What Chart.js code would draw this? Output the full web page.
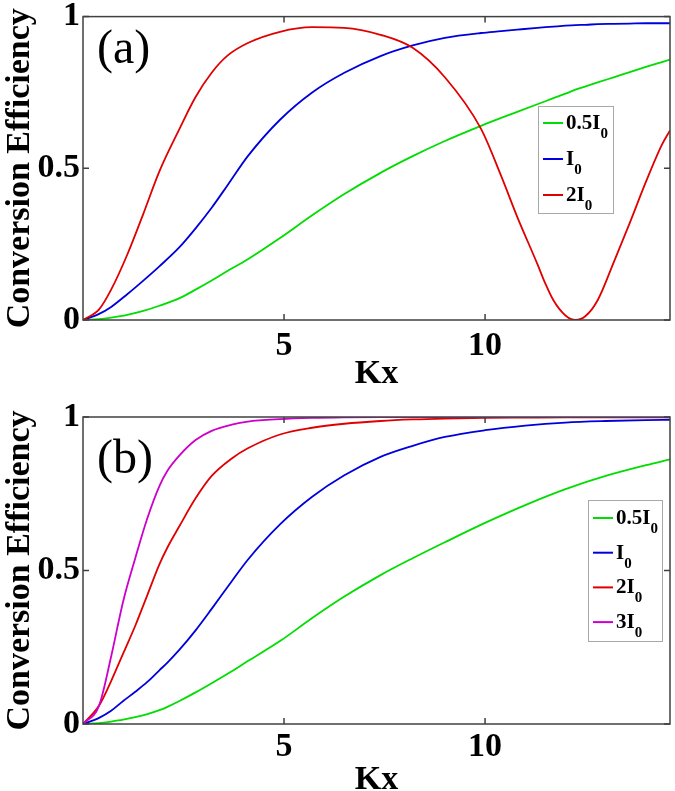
<!DOCTYPE html>
<html>
<head>
<meta charset="utf-8">
<script src="https://cdn.jsdelivr.net/npm/chart.js@4.4.0/dist/chart.umd.min.js"></script>
<style>
html, body { margin: 0; padding: 0; background: #fff; overflow: hidden; }
.panel { position: absolute; left: 0; width: 675px; }
</style>
</head>
<body>
<div class="panel" style="top:0;height:395px"><canvas id="chart-a" width="675" height="395"></canvas></div>
<div class="panel" style="top:395px;height:410px"><canvas id="chart-b" width="675" height="410"></canvas></div>
<script>
// panel (a)
const kxA = [0, 0.4, 0.7, 1.1, 1.5, 1.9, 2.4, 2.8, 3.2, 3.6, 4.1, 4.9, 5.7, 6.5, 7.4, 8.2, 9.0, 9.9, 10.4, 10.8, 11.3, 11.5, 11.7, 12.0, 12.25, 12.5, 12.8, 13.2, 13.6, 14.0, 14.4, 14.6];
const greenA = [0, 0.003, 0.008, 0.017, 0.03, 0.047, 0.072, 0.1, 0.13, 0.162, 0.2, 0.27, 0.345, 0.415, 0.485, 0.54, 0.59, 0.64, 0.666, 0.686, 0.711, 0.721, 0.731, 0.746, 0.759, 0.77, 0.783, 0.8, 0.817, 0.834, 0.85, 0.858];
const blueA = [0, 0.02, 0.043, 0.085, 0.13, 0.177, 0.24, 0.302, 0.37, 0.445, 0.54, 0.66, 0.75, 0.815, 0.87, 0.905, 0.93, 0.946, 0.952, 0.957, 0.963, 0.965, 0.967, 0.97, 0.972, 0.973, 0.975, 0.976, 0.977, 0.978, 0.978, 0.978];
const redA = [0, 0.035, 0.10, 0.215, 0.35, 0.49, 0.63, 0.735, 0.815, 0.872, 0.913, 0.95, 0.965, 0.963, 0.94, 0.897, 0.8, 0.63, 0.475, 0.34, 0.185, 0.12, 0.065, 0.015, 0, 0.013, 0.065, 0.19, 0.32, 0.455, 0.578, 0.625];

// panel (b)
const kxB = [0, 0.4, 0.7, 1.0, 1.3, 1.6, 1.9, 2.1, 2.4, 2.8, 3.2, 3.7, 4.1, 4.9, 5.7, 6.5, 7.4, 8.2, 9.0, 10.0, 11.0, 12.0, 13.0, 14.0, 14.6];
const greenB = [0, 0.003, 0.008, 0.014, 0.022, 0.032, 0.045, 0.056, 0.075, 0.103, 0.133, 0.172, 0.205, 0.27, 0.345, 0.415, 0.485, 0.54, 0.592, 0.655, 0.713, 0.765, 0.808, 0.843, 0.862];
const blueB = [0, 0.02, 0.043, 0.075, 0.105, 0.137, 0.175, 0.2, 0.242, 0.305, 0.375, 0.465, 0.535, 0.65, 0.74, 0.81, 0.87, 0.906, 0.935, 0.957, 0.972, 0.982, 0.987, 0.99, 0.991];
const redB = [0, 0.06, 0.14, 0.23, 0.32, 0.42, 0.52, 0.575, 0.645, 0.735, 0.808, 0.865, 0.898, 0.943, 0.965, 0.978, 0.987, 0.992, 0.995, 0.997, 0.998, 0.999, 0.999, 0.999, 0.999];
const magentaB = [0, 0.06, 0.22, 0.4, 0.54, 0.67, 0.775, 0.825, 0.875, 0.925, 0.955, 0.975, 0.985, 0.993, 0.997, 0.999, 1, 1, 1, 1, 1, 1, 1, 1, 1];

const xTicks = [5, 10];
const yTicks = [0, 0.5, 1];
const seriesNames = ['0.5I_0', 'I_0', '2I_0', '3I_0'];
const seriesColors = ['#00dd00', '#0000dd', '#e00000', '#cc00cc'];

const serif = '"Liberation Serif", "Times New Roman", serif';
Chart.defaults.font.family = serif;
Chart.defaults.color = '#000';

function pairs(xs, ys) {
    return xs.map((x, i) => ({ x: x, y: ys[i] }));
}

function makeDatasets(xs, series) {
    return series.map((ys, i) => ({
        label: seriesNames[i],
        data: pairs(xs, ys),
        borderColor: seriesColors[i],
        borderWidth: 1.8,
        pointRadius: 0,
        cubicInterpolationMode: 'monotone',
        fill: false,
        order: -i
    }));
}

// box, inward ticks, panel letter and legend
const framePlugin = {
    id: 'frame',
    afterDatasetsDraw(chart, args, opts) {
        const ctx = chart.ctx;
        const a = chart.chartArea;
        const x = chart.scales.x, y = chart.scales.y;
        ctx.save();
        ctx.strokeStyle = '#404040';
        ctx.lineWidth = 1.5;
        ctx.strokeRect(a.left, a.top, a.right - a.left, a.bottom - a.top);
        ctx.beginPath();
        xTicks.forEach(v => {
            const p = x.getPixelForValue(v);
            ctx.moveTo(p, a.bottom); ctx.lineTo(p, a.bottom - 6);
            ctx.moveTo(p, a.top); ctx.lineTo(p, a.top + 6);
        });
        yTicks.forEach(v => {
            const p = y.getPixelForValue(v);
            ctx.moveTo(a.left, p); ctx.lineTo(a.left + 6, p);
            ctx.moveTo(a.right, p); ctx.lineTo(a.right - 6, p);
        });
        ctx.stroke();

        ctx.fillStyle = '#000';
        ctx.font = '48px ' + serif;
        ctx.textBaseline = 'alphabetic';
        ctx.fillText(opts.letter, opts.letterX, opts.letterY);

        const b = opts.box;
        ctx.fillStyle = '#fff';
        ctx.fillRect(b.x, b.y, b.w, b.h);
        ctx.strokeStyle = '#a8a8a8';
        ctx.lineWidth = 1;
        ctx.strokeRect(b.x + 0.5, b.y + 0.5, b.w, b.h);
        chart.data.datasets.forEach((ds, i) => {
            const ly = b.firstY + i * b.step;
            ctx.strokeStyle = ds.borderColor;
            ctx.lineWidth = 2;
            ctx.beginPath();
            ctx.moveTo(b.x + 5, ly);
            ctx.lineTo(b.x + 25, ly);
            ctx.stroke();
            const parts = ds.label.split('_');
            ctx.fillStyle = '#000';
            ctx.font = 'bold 21px ' + serif;
            ctx.fillText(parts[0], b.x + 28, ly + 6);
            const w = ctx.measureText(parts[0]).width;
            ctx.font = 'bold 15px ' + serif;
            ctx.fillText(parts[1], b.x + 28 + w, ly + 15);
        });
        ctx.restore();
    }
};

function makeChart(id, xs, series, cfg) {
    return new Chart(document.getElementById(id), {
        type: 'line',
        data: { datasets: makeDatasets(xs, series) },
        plugins: [framePlugin],
        options: {
            responsive: false,
            animation: false,
            layout: { padding: { top: cfg.top, right: 5, left: 0, bottom: 0 } },
            plugins: {
                legend: { display: false },
                tooltip: { enabled: false },
                frame: cfg.frame
            },
            scales: {
                x: {
                    type: 'linear',
                    min: 0,
                    max: 14.6,
                    grid: { display: false, drawTicks: false },
                    border: { display: false },
                    afterBuildTicks: s => { s.ticks = xTicks.map(v => ({ value: v })); },
                    afterFit: s => { s.height = cfg.xHeight; },
                    ticks: {
                        padding: cfg.xPad,
                        font: { size: 34, weight: 'bold', lineHeight: 1 }
                    },
                    title: {
                        display: true,
                        text: 'Kx',
                        padding: { top: 0, bottom: cfg.titlePad },
                        font: { size: 34, weight: 'bold' }
                    }
                },
                y: {
                    min: 0,
                    max: 1,
                    grid: { display: false, drawTicks: false },
                    border: { display: false },
                    afterBuildTicks: s => { s.ticks = yTicks.map(v => ({ value: v })); },
                    afterFit: s => { s.width = 83; },
                    ticks: {
                        padding: 3,
                        font: { size: 34, weight: 'bold', lineHeight: 0.8 },
                        callback: v => String(v)
                    },
                    title: {
                        display: true,
                        text: 'Conversion Efficiency',
                        padding: { top: 0, bottom: 0 },
                        font: { size: 34, weight: 'bold' }
                    }
                }
            }
        }
    });
}

makeChart('chart-a', kxA, [greenA, blueA, redA], {
    top: 14, xHeight: 75, xPad: 9, titlePad: 0,
    frame: {
        letter: '(a)', letterX: 97, letterY: 63,
        box: { x: 538, y: 106, w: 75, h: 107, firstY: 123, step: 36 }
    }
});

makeChart('chart-b', kxB, [greenB, blueB, redB, magentaB], {
    top: 22, xHeight: 81, xPad: 6, titlePad: 4,
    frame: {
        letter: '(b)', letterX: 97, letterY: 78,
        box: { x: 588, y: 105, w: 74, h: 141, firstY: 123, step: 34.7 }
    }
});
</script>
</body>
</html>
